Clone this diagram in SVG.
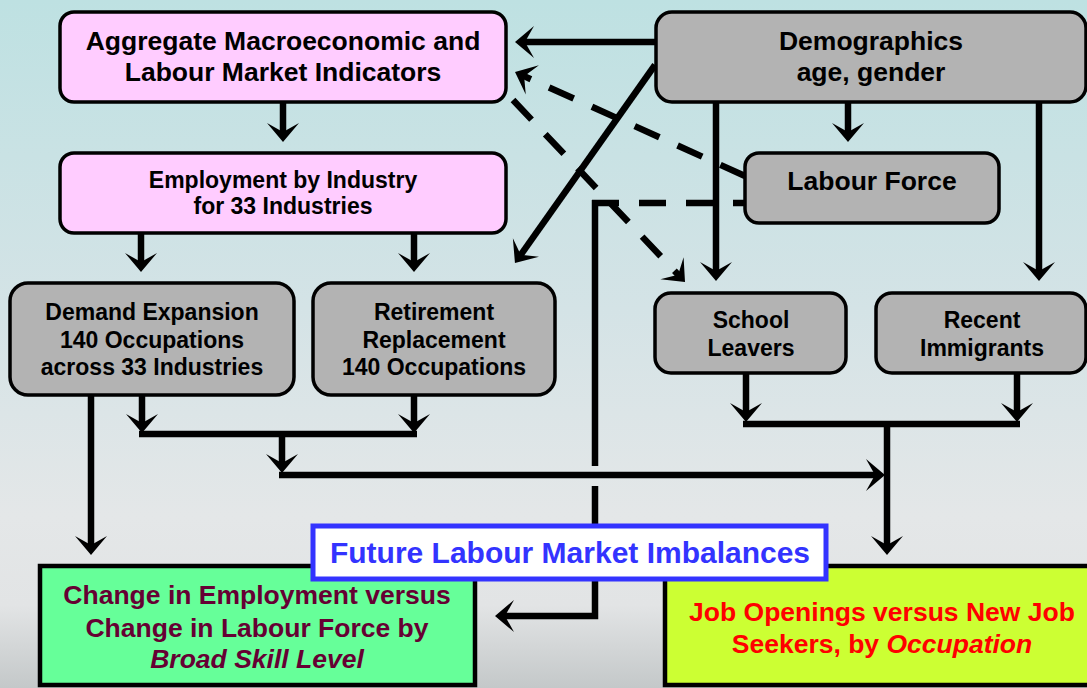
<svg xmlns="http://www.w3.org/2000/svg" width="1087" height="688" viewBox="0 0 1087 688">
<defs>
<linearGradient id="bg" x1="0" y1="0" x2="0" y2="1">
<stop offset="0" stop-color="#bee1e2"/>
<stop offset="0.45" stop-color="#d4e3e6"/>
<stop offset="0.75" stop-color="#e4e7e8"/>
<stop offset="0.88" stop-color="#e2e4e5"/>
<stop offset="1" stop-color="#c4c8c9"/>
</linearGradient>
<marker id="ah" markerUnits="userSpaceOnUse" markerWidth="22" markerHeight="36" viewBox="0 -18 22 36" refX="12" refY="0" orient="auto" overflow="visible">
<path d="M0,-16 L19,0 L0,16 L9,0 Z" fill="#000"/>
</marker>
</defs>
<style>
.ln{fill:none;stroke:#000;stroke-width:6.5}
.ar{marker-end:url(#ah)}
.dash{stroke-dasharray:27 20}
.pink{fill:#ffccff;stroke:#000;stroke-width:3.5}
.gray{fill:#b3b3b3;stroke:#000;stroke-width:3.5}
.t{font-family:"Liberation Sans",Arial,sans-serif;font-weight:bold;text-anchor:middle;fill:#000}
.big{font-size:26.5px}
.mid{font-size:23px}
</style>
<rect x="0" y="0" width="1087" height="688" fill="url(#bg)"/>

<g id="connectors">
<line class="ln ar" x1="283" y1="102" x2="283" y2="135"/>
<line class="ln ar" x1="141" y1="233" x2="141" y2="265"/>
<line class="ln ar" x1="414" y1="233" x2="414" y2="265"/>
<line class="ln ar" x1="656" y1="42" x2="522" y2="42"/>
<line class="ln ar" x1="655" y1="65" x2="519" y2="257.3"/>
<line class="ln ar dash" x1="745" y1="176" x2="521.4" y2="74.9"/>
<line class="ln ar dash" x1="513" y1="100" x2="680.2" y2="276.9"/>
<line class="ln ar" x1="716" y1="102" x2="716" y2="274"/>
<line class="ln ar" x1="848" y1="102" x2="848" y2="135"/>
<line class="ln ar" x1="1039" y1="102" x2="1039" y2="274"/>
<line class="ln dash" x1="592" y1="203" x2="745" y2="203"/>
<path class="ln" d="M595,200 V466"/>
<path class="ln ar" d="M595,486 V616 H502"/>
<line class="ln ar" x1="142" y1="395" x2="142" y2="426"/>
<line class="ln ar" x1="414" y1="395" x2="414" y2="426"/>
<line class="ln" x1="139" y1="434" x2="417" y2="434"/>
<line class="ln ar" x1="282" y1="434" x2="282" y2="466"/>
<line class="ln ar" x1="279" y1="475" x2="878" y2="475"/>
<line class="ln ar" x1="91" y1="395" x2="91" y2="548"/>
<line class="ln ar" x1="746" y1="373" x2="746" y2="415"/>
<line class="ln ar" x1="1017" y1="373" x2="1017" y2="415"/>
<line class="ln" x1="743" y1="424" x2="1020" y2="424"/>
<line class="ln ar" x1="887" y1="421" x2="887" y2="548"/>
</g>

<g id="node-aggregate">
<rect class="pink" x="60" y="12" width="446" height="90" rx="14"/>
<text class="t big" x="283" y="50">Aggregate Macroeconomic and</text>
<text class="t big" x="283" y="81">Labour Market Indicators</text>
</g>
<g id="node-employment">
<rect class="pink" x="60" y="153" width="446" height="80" rx="14"/>
<text class="t mid" x="283" y="188">Employment by Industry</text>
<text class="t mid" x="283" y="214">for 33 Industries</text>
</g>
<g id="node-demand">
<rect class="gray" x="10" y="283" width="284" height="112" rx="18"/>
<text class="t mid" x="152" y="320">Demand Expansion</text>
<text class="t mid" x="152" y="348">140 Occupations</text>
<text class="t mid" x="152" y="375">across 33 Industries</text>
</g>
<g id="node-retirement">
<rect class="gray" x="313" y="283" width="242" height="112" rx="18"/>
<text class="t mid" x="434" y="320">Retirement</text>
<text class="t mid" x="434" y="348">Replacement</text>
<text class="t mid" x="434" y="375">140 Occupations</text>
</g>
<g id="node-demographics">
<rect class="gray" x="656" y="12" width="430" height="90" rx="16"/>
<text class="t big" x="871" y="50">Demographics</text>
<text class="t big" x="871" y="81">age, gender</text>
</g>
<g id="node-labourforce">
<rect class="gray" x="745" y="153" width="254" height="70" rx="14"/>
<text class="t big" x="872" y="190">Labour Force</text>
</g>
<g id="node-schoolleavers">
<rect class="gray" x="655" y="293" width="191" height="80" rx="16"/>
<text class="t mid" x="751" y="328">School</text>
<text class="t mid" x="751" y="356">Leavers</text>
</g>
<g id="node-immigrants">
<rect class="gray" x="876" y="293" width="210" height="80" rx="16"/>
<text class="t mid" x="982" y="328">Recent</text>
<text class="t mid" x="982" y="356">Immigrants</text>
</g>
<g id="node-change">
<rect x="40" y="566" width="435" height="119" fill="#66ff99" stroke="#000" stroke-width="4.5"/>
<text class="t big" x="257" y="604" style="fill:#660033">Change in Employment versus</text>
<text class="t big" x="257" y="637" style="fill:#660033">Change in Labour Force by</text>
<text class="t big" x="257" y="668" style="fill:#660033;font-style:italic">Broad Skill Level</text>
</g>
<g id="node-jobopenings">
<rect x="665" y="566" width="440" height="119" fill="#ccff33" stroke="#000" stroke-width="4.5"/>
<text class="t big" x="882" y="621" style="fill:#ff0000">Job Openings versus New Job</text>
<text class="t big" x="882" y="653" style="fill:#ff0000">Seekers, by <tspan style="font-style:italic">Occupation</tspan></text>
</g>
<g id="node-imbalances">
<rect x="313" y="526" width="513" height="53" fill="#ffffff" stroke="#3333ff" stroke-width="5"/>
<text class="t" x="570" y="563" style="font-size:30px;fill:#3333ff">Future Labour Market Imbalances</text>
</g>
</svg>
